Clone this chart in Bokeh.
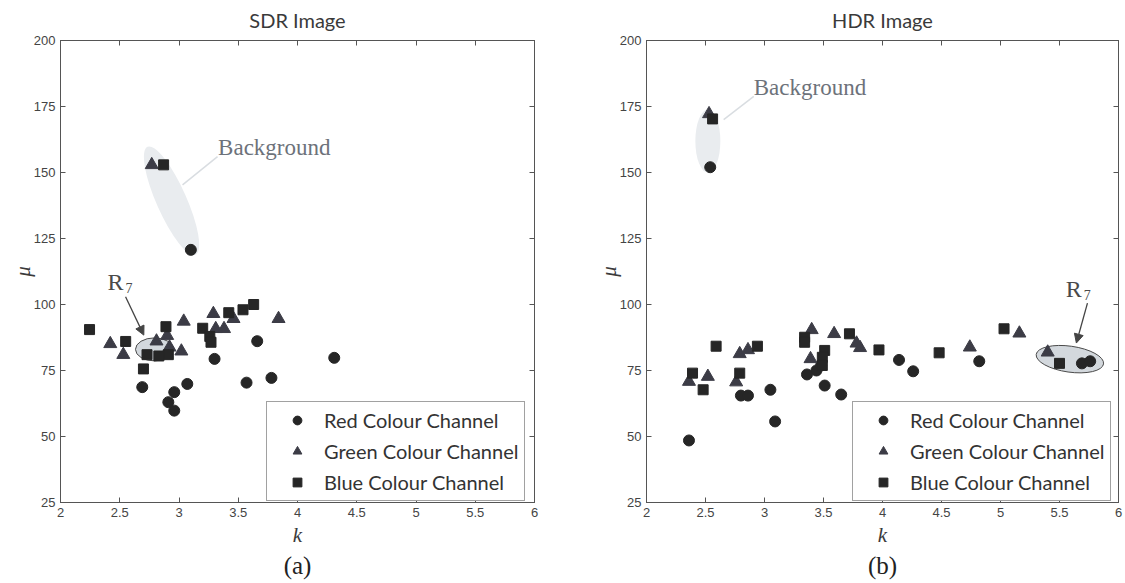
from bokeh.plotting import figure
from bokeh.layouts import row
from bokeh.models import (Range1d, FixedTicker, LinearAxis, Legend, LegendItem,
                          Arrow, NormalHead, Title, CustomJSTickFormatter,
                          CustomLabelingPolicy)
from bokeh.core.properties import value
from bokeh.embed import file_html
from bokeh.resources import INLINE

# ---------------- data ----------------
x_ticks = [2, 2.5, 3, 3.5, 4, 4.5, 5, 5.5, 6]
y_ticks = [25, 50, 75, 100, 125, 150, 175, 200]
legend_labels = ["Red Colour Channel", "Green Colour Channel", "Blue Colour Channel"]
panel_titles = ["SDR Image", "HDR Image"]
panel_tags = ["(a)", "(b)"]

# SDR image (a)
sdr_red_k = [2.69, 2.96, 3.07, 2.91, 2.96, 3.30, 3.66, 3.57, 3.78, 4.31, 3.10]
sdr_red_mu = [68.7, 66.8, 69.9, 63.0, 59.8, 79.4, 86.1, 70.4, 72.2, 79.8, 120.7]
sdr_green_k = [2.42, 2.53, 2.81, 2.90, 3.04, 3.02, 3.29, 3.31, 3.38, 3.46, 3.84, 2.92, 2.77]
sdr_green_mu = [85.1, 81.0, 86.1, 88.2, 93.6, 82.3, 96.5, 90.8, 90.8, 94.6, 94.6, 83.8, 152.9]
sdr_blue_k = [2.245, 2.55, 2.89, 2.73, 2.91, 2.70, 3.20, 3.26, 3.27, 3.42, 3.54, 3.63, 2.83, 2.87]
sdr_blue_mu = [90.5, 86.0, 91.6, 81.0, 81.0, 75.6, 91.0, 87.9, 85.7, 96.9, 98.0, 100.0, 80.5, 152.9]

# HDR image (b)
hdr_red_k = [2.36, 2.80, 2.86, 3.05, 3.09, 3.36, 3.44, 3.48, 3.51, 3.65, 4.14, 4.26, 4.82, 5.69, 5.76, 2.54]
hdr_red_mu = [48.5, 65.5, 65.5, 67.7, 55.7, 73.5, 75.0, 76.9, 69.3, 65.9, 79.0, 74.7, 78.5, 77.7, 78.5, 152.0]
hdr_green_k = [2.36, 2.52, 2.76, 2.79, 2.86, 3.40, 3.39, 3.59, 3.78, 3.81, 4.74, 5.16, 5.40, 2.53]
hdr_green_mu = [70.8, 72.7, 70.6, 81.3, 82.8, 90.4, 79.4, 88.9, 85.3, 83.6, 83.8, 89.1, 81.9, 172.2]
hdr_blue_k = [2.39, 2.48, 2.59, 2.79, 2.94, 3.34, 3.34, 3.51, 3.49, 3.49, 3.72, 3.97, 4.48, 5.03, 5.50, 2.56]
hdr_blue_mu = [74.0, 67.7, 84.2, 74.0, 84.2, 87.6, 85.7, 82.6, 80.0, 76.9, 88.9, 82.8, 81.7, 90.8, 77.7, 170.3]

# annotation anchors (data coords): background ellipse, leader line, label, R7 ellipse/arrow/label
sdr_bg_ellipse = dict(x=2.937, y=139.3, w=118, h=30, angle=-1.152)
sdr_bg_leader = (3.03, 145.3, 3.325, 156.0)
sdr_bg_label = (3.33, 159.4)
sdr_r7_ellipse = dict(x=2.793, y=83.0, w=38, h=23, angle=0.0)
sdr_r7_label = (2.465, 108.7)
sdr_r7_arrow = (2.549, 102.9, 2.703, 88.4)

hdr_bg_ellipse = dict(x=2.52, y=161.9, w=25, h=63, angle=0.0)
hdr_bg_leader = (2.654, 170.0, 2.909, 178.8)
hdr_bg_label = (2.909, 182.2)
hdr_r7_ellipse = dict(x=5.588, y=79.3, w=68, h=26, angle=-0.14)
hdr_r7_label = (5.62, 105.9)
hdr_r7_arrow = (5.737, 100.5, 5.643, 85.4)

AX = "#555555"
TXT = "#3a3a3a"
MARK = ["#262626", "#3c3c46", "#262626"]
SHAPES = ["circle", "triangle", "square"]
SIZES = [11, 13, 10]

NO_LABELS = CustomLabelingPolicy(code="for (const i of indices) { indices.unset(i) } return indices")


def make_panel(title, tag, series, bg_e, bg_leader, bg_label, r7_e, r7_label, r7_arrow,
               width, border_left, border_right):
    p = figure(width=width, height=583, output_backend="svg", toolbar_location=None,
               x_range=Range1d(2, 6), y_range=Range1d(25, 200),
               min_border_left=border_left, min_border_right=border_right,
               min_border_top=37, min_border_bottom=81,
               background_fill_color="white", border_fill_color="white")
    p.grid.visible = False
    p.outline_line_color = AX

    fmt = CustomJSTickFormatter(code="return tick.toString();")
    for ax, ticks in ((p.xaxis[0], x_ticks), (p.yaxis[0], y_ticks)):
        ax.ticker = FixedTicker(ticks=ticks)
        ax.formatter = fmt
        ax.major_tick_in = 5
        ax.major_tick_out = 0
        ax.minor_tick_line_color = None
        ax.axis_line_color = AX
        ax.major_tick_line_color = AX
        ax.major_label_text_font = "Liberation Sans"
        ax.major_label_text_font_size = "13px"
        ax.major_label_text_color = "#444444"
        ax.major_label_standoff = 5
        ax.axis_label_text_font = "Liberation Serif"
        ax.axis_label_text_font_style = "italic"
        ax.axis_label_text_font_size = "21px"
        ax.axis_label_text_color = TXT
    p.xaxis[0].axis_label = "k"
    p.xaxis[0].axis_label_standoff = 3
    p.yaxis[0].axis_label = "\u03bc"
    p.yaxis[0].axis_label_standoff = -4

    for loc, ticks in (("above", x_ticks), ("right", y_ticks)):
        ax = LinearAxis(ticker=FixedTicker(ticks=ticks), major_label_policy=NO_LABELS,
                        major_label_text_font_size="1px", axis_label_standoff=0,
                        major_label_standoff=0, major_tick_in=5, major_tick_out=0,
                        minor_tick_line_color=None, axis_line_color=AX,
                        major_tick_line_color=AX)
        p.add_layout(ax, loc)

    p.title.text = title
    p.title.align = "center"
    p.title.text_font = "Lato"
    p.title.text_font_size = "20px"
    p.title.text_font_style = "normal"
    p.title.text_color = TXT
    p.title.standoff = 10

    p.add_layout(Title(text=tag, align="center", text_font="Liberation Serif",
                       text_font_size="25px", text_font_style="normal",
                       text_color="#222222", standoff=1), "below")

    # background ellipse + leader + label
    p.ellipse(x=[bg_e["x"]], y=[bg_e["y"]], width=[bg_e["w"]], height=[bg_e["h"]],
              angle=[bg_e["angle"]], width_units="screen", height_units="screen",
              fill_color="#e9ecef", fill_alpha=1.0, line_color=None)
    p.segment(x0=[bg_leader[0]], y0=[bg_leader[1]], x1=[bg_leader[2]], y1=[bg_leader[3]],
              line_color="#d9dde1", line_width=1.5)
    p.text(x=[bg_label[0]], y=[bg_label[1]], text=["Background"],
           text_font=value("Liberation Serif"), text_font_size="23px",
           text_color="#6d727a", text_align="left", text_baseline="middle")

    # R7 ellipse
    p.ellipse(x=[r7_e["x"]], y=[r7_e["y"]], width=[r7_e["w"]], height=[r7_e["h"]],
              angle=[r7_e["angle"]], width_units="screen", height_units="screen",
              fill_color="#d3d8dd", line_color="#4a4a4a", line_width=1)

    renderers = []
    for (k, mu), shape, size, col in zip(series, SHAPES, SIZES, MARK):
        r = p.scatter(x=k, y=mu, marker=shape, size=size, fill_color=col,
                      line_color=col, line_width=1)
        renderers.append(r)

    p.add_layout(Arrow(end=NormalHead(size=9, fill_color="#444444", line_color="#444444"),
                       x_start=r7_arrow[0], y_start=r7_arrow[1],
                       x_end=r7_arrow[2], y_end=r7_arrow[3],
                       line_color="#444444", line_width=1.3))
    p.text(x=[r7_label[0]], y=[r7_label[1]], text=["R"],
           text_font=value("Liberation Serif"), text_font_size="24px",
           text_color="#4a4a4a", text_align="center", text_baseline="middle")
    p.text(x=[r7_label[0]], y=[r7_label[1]], text=["7"], x_offset=13.5, y_offset=6,
           text_font=value("Liberation Serif"), text_font_size="14px",
           text_color="#4a4a4a", text_align="center", text_baseline="middle")

    legend = Legend(items=[LegendItem(label=lab, renderers=[r])
                           for lab, r in zip(legend_labels, renderers)],
                    location=(206, 1), orientation="vertical",
                    border_line_color="#444444", border_line_width=1,
                    background_fill_color="white", background_fill_alpha=1.0,
                    label_text_font="Lato", label_text_font_size="20px",
                    label_text_color="#333333",
                    glyph_width=48, glyph_height=22, label_height=22,
                    label_standoff=3, spacing=7, padding=6, margin=0)
    p.add_layout(legend, "center")
    return p


p1 = make_panel(panel_titles[0], panel_tags[0],
                [(sdr_red_k, sdr_red_mu), (sdr_green_k, sdr_green_mu), (sdr_blue_k, sdr_blue_mu)],
                sdr_bg_ellipse, sdr_bg_leader, sdr_bg_label,
                sdr_r7_ellipse, sdr_r7_label, sdr_r7_arrow,
                width=560, border_left=60, border_right=26)
p2 = make_panel(panel_titles[1], panel_tags[1],
                [(hdr_red_k, hdr_red_mu), (hdr_green_k, hdr_green_mu), (hdr_blue_k, hdr_blue_mu)],
                hdr_bg_ellipse, hdr_bg_leader, hdr_bg_label,
                hdr_r7_ellipse, hdr_r7_label, hdr_r7_arrow,
                width=565, border_left=86, border_right=7)

layout = row(p1, p2)
open("out.html", "w").write(file_html(layout, INLINE))
